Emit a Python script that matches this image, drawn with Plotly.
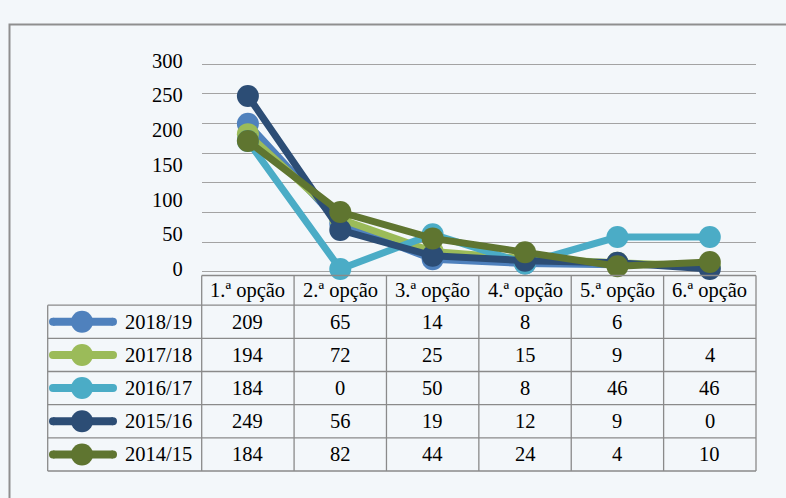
import plotly.graph_objects as go

categories = ["1.ª opção", "2.ª opção", "3.ª opção", "4.ª opção", "5.ª opção", "6.ª opção"]
series_names = ["2018/19", "2017/18", "2016/17", "2015/16", "2014/15"]
v_2018_19 = [209, 65, 14, 8, 6, None]
v_2017_18 = [194, 72, 25, 15, 9, 4]
v_2016_17 = [184, 0, 50, 8, 46, 46]
v_2015_16 = [249, 56, 19, 12, 9, 0]
v_2014_15 = [184, 82, 44, 24, 4, 10]
y_ticks = [0, 50, 100, 150, 200, 250, 300]

series_values = [v_2018_19, v_2017_18, v_2016_17, v_2015_16, v_2014_15]
colors = ["#4f81bd", "#9bbb59", "#4bacc6", "#2c4d75", "#5f7530"]

W, H = 786, 498
FONT = "Liberation Serif, Times New Roman, serif"
FS = 20.5
BG = "#f3f7fa"
GRID = "#a3a3a3"
TLINE = "#8a8a8a"

# layout geometry (pixels)
PX_L, PX_R = 201.7, 756.0       # plot area / category columns
PX_TOP, PX_BOT = 51.0, 272.7    # plot area
LEG_L = 47.7                    # legend column left
HDR_BOT = 303.3
ROW_H = 34.2
N_GRID = 7                      # gridline intervals drawn by the chart


def px(x):
    return x / W


def py(y):
    return 1 - y / H


fig = go.Figure()

for name, vals, col in zip(series_names, series_values, colors):
    fig.add_trace(go.Scatter(
        x=categories, y=vals, name=name, mode="lines+markers",
        line=dict(color=col, width=7),
        marker=dict(color=col, size=22, opacity=1, line=dict(width=0)),
        showlegend=False, connectgaps=False, cliponaxis=False,
    ))

# empty trace to host the overlay grid axis
fig.add_trace(go.Scatter(x=[], y=[], yaxis="y2", showlegend=False, hoverinfo="skip"))

# legend symbols inside the table (pixel-space helper axis)
for i, (name, col) in enumerate(zip(series_names, colors)):
    yc = HDR_BOT + ROW_H * (i + 0.5)
    fig.add_trace(go.Scatter(
        x=[53, 82, 113], y=[yc, yc, yc], xaxis="x3", yaxis="y3",
        mode="lines+markers", line=dict(color=col, width=8),
        marker=dict(color=col, size=[8, 22, 8], opacity=1, line=dict(width=0)),
        showlegend=False, hoverinfo="skip", cliponaxis=False,
    ))

shapes = []
# outer chart border
shapes.append(dict(type="rect", xref="paper", yref="paper",
                   x0=px(9.5), x1=px(820), y0=py(14), y1=py(540),
                   line=dict(color="#8f8f8f", width=2), layer="below"))

n_rows = len(series_names)
table_bot = HDR_BOT + ROW_H * n_rows
col_w = (PX_R - PX_L) / len(categories)
# header top line
shapes.append(dict(type="line", xref="paper", yref="paper",
                   x0=px(PX_L), x1=px(PX_R), y0=py(PX_BOT), y1=py(PX_BOT),
                   line=dict(color=TLINE, width=1.3)))
# horizontal row lines
for r in range(n_rows + 1):
    yy = HDR_BOT + ROW_H * r
    shapes.append(dict(type="line", xref="paper", yref="paper",
                       x0=px(LEG_L), x1=px(PX_R), y0=py(yy), y1=py(yy),
                       line=dict(color=TLINE, width=1.3)))
# vertical column lines
for k in range(len(categories) + 1):
    xx = PX_L + col_w * k
    shapes.append(dict(type="line", xref="paper", yref="paper",
                       x0=px(xx), x1=px(xx), y0=py(PX_BOT), y1=py(table_bot),
                       line=dict(color=TLINE, width=1.3)))
shapes.append(dict(type="line", xref="paper", yref="paper",
                   x0=px(LEG_L), x1=px(LEG_L), y0=py(HDR_BOT), y1=py(table_bot),
                   line=dict(color=TLINE, width=1.3)))

annotations = []
# header labels
for c in categories:
    annotations.append(dict(x=c, xref="x", y=py((PX_BOT + HDR_BOT) / 2), yref="paper",
                            text=c, showarrow=False, xanchor="center", yanchor="middle",
                            font=dict(family=FONT, size=FS, color="#000")))
# cell values and legend names
for i, (name, vals) in enumerate(zip(series_names, series_values)):
    yc = py(HDR_BOT + ROW_H * (i + 0.5))
    annotations.append(dict(x=px(123), xref="paper", y=yc, yref="paper", text=name,
                            showarrow=False, xanchor="left", yanchor="middle",
                            font=dict(family=FONT, size=FS, color="#000")))
    for c, v in zip(categories, vals):
        annotations.append(dict(x=c, xref="x", y=yc, yref="paper",
                                text="" if v is None else str(v),
                                showarrow=False, xanchor="center", yanchor="middle",
                                font=dict(family=FONT, size=FS, color="#000")))

# y range such that 0 sits a little above the table top
y_scale = (266.0 - PX_TOP) / 300.0
y_min = -(PX_BOT - 266.0) / y_scale

# grid overlay axis: padded so edge gridlines are not clipped
sp = (PX_BOT - PX_TOP) / N_GRID
pad = 4.0
g_dom = [py(PX_BOT + pad), py(PX_TOP - pad)]
g_rng = [-pad / sp, N_GRID + pad / sp]

fig.update_layout(
    width=W, height=H, autosize=False,
    margin=dict(l=0, r=0, t=0, b=0),
    paper_bgcolor=BG, plot_bgcolor="rgba(0,0,0,0)",
    font=dict(family=FONT, size=FS, color="#000"),
    xaxis=dict(domain=[px(PX_L), px(PX_R)], type="category", categoryorder="array",
               categoryarray=categories, range=[-0.5, len(categories) - 0.5],
               showticklabels=False, showgrid=False, zeroline=False, showline=False,
               fixedrange=True),
    yaxis=dict(domain=[py(PX_BOT), py(PX_TOP)], range=[y_min, 300],
               tickvals=y_ticks, ticktext=[str(t) for t in y_ticks],
               showgrid=False, zeroline=False, showline=False, ticks="",
               ticklabelstandoff=18,
               tickfont=dict(family=FONT, size=FS, color="#000"), fixedrange=True),
    yaxis2=dict(domain=g_dom, overlaying="y", range=g_rng, anchor="x",
                tickvals=list(range(N_GRID + 1)), showgrid=True, gridcolor=GRID,
                gridwidth=1.3, showticklabels=False, zeroline=False, showline=False,
                fixedrange=True),
    xaxis3=dict(domain=[0, 1], range=[0, W], visible=False, fixedrange=True, anchor="y3"),
    yaxis3=dict(domain=[0, 1], range=[H, 0], visible=False, fixedrange=True, anchor="x3"),
    shapes=shapes,
    annotations=annotations,
)

fig.write_html(
    "out.html",
    config={"displayModeBar": False},
    post_script=["document.body.style.margin='0';document.body.style.overflow='hidden';"],
)
